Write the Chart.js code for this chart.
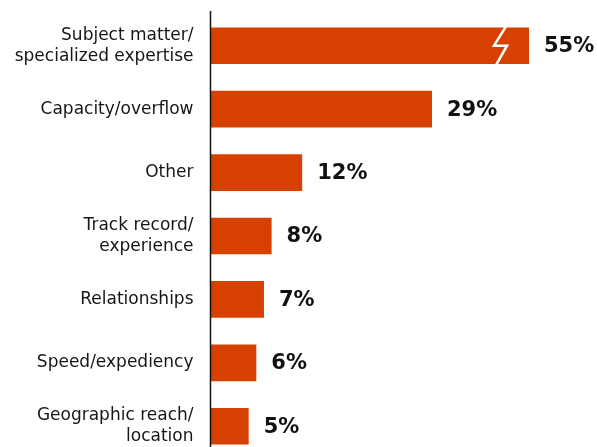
<!DOCTYPE html>
<html>
<head>
<meta charset="utf-8">
<script src="https://cdn.jsdelivr.net/npm/chart.js@4"></script>
<style>
  html, body { margin: 0; padding: 0; background: #ffffff; overflow: hidden; }
  #wrap { width: 597px; height: 458px; position: relative; }
</style>
</head>
<body>
<div id="wrap"><canvas id="chart"></canvas></div>
<script>
// Reasons for engaging outside help (share of respondents)
const categories = [
  ['Subject matter/', 'specialized expertise'],
  'Capacity/overflow',
  'Other',
  ['Track record/', 'experience'],
  'Relationships',
  'Speed/expediency',
  ['Geographic reach/', 'location']
];
const shares = [55, 29, 12, 8, 7, 6, 5];
const valueLabels = ['55%', '29%', '12%', '8%', '7%', '6%', '5%'];

// Visible extent of the value axis; longer bars are cut and marked with a break
const axisMax = 41.7;

const BAR_COLOR = '#d64000';
const TEXT_COLOR = '#161616';
const FONT = '"DejaVu Sans", sans-serif';

const decorations = {
  id: 'decorations',
  afterDatasetsDraw(chart) {
    const ctx = chart.ctx;
    const area = chart.chartArea;
    const meta = chart.getDatasetMeta(0);
    ctx.save();

    // vertical axis line
    ctx.strokeStyle = '#111111';
    ctx.lineWidth = 1.5;
    ctx.beginPath();
    ctx.moveTo(area.left, 11);
    ctx.lineTo(area.left, chart.height);
    ctx.stroke();

    meta.data.forEach((bar, i) => {
      const top = bar.y - bar.height / 2;
      const bottom = bar.y + bar.height / 2;
      const clipped = shares[i] > axisMax;
      const end = clipped ? area.right : bar.x;

      // break mark on truncated bars
      if (clipped) {
        ctx.strokeStyle = '#ffffff';
        ctx.lineWidth = 2.5;
        ctx.lineJoin = 'miter';
        ctx.beginPath();
        ctx.moveTo(area.right - 23, top - 1);
        ctx.lineTo(area.right - 35, bar.y);
        ctx.lineTo(area.right - 22, bar.y);
        ctx.lineTo(area.right - 33, bottom + 1);
        ctx.stroke();
      }

      // value label
      ctx.fillStyle = '#111111';
      ctx.font = 'bold 21px ' + FONT;
      ctx.textAlign = 'left';
      ctx.textBaseline = 'middle';
      ctx.fillText(valueLabels[i], end + 15, bar.y + 1);
    });
    ctx.restore();
  }
};

new Chart(document.getElementById('chart'), {
  type: 'bar',
  data: {
    labels: categories,
    datasets: [{
      data: shares,
      backgroundColor: BAR_COLOR,
      borderWidth: 0,
      barPercentage: 1,
      categoryPercentage: 0.578,
      clip: 0
    }]
  },
  options: {
    indexAxis: 'y',
    responsive: true,
    maintainAspectRatio: false,
    animation: false,
    layout: { padding: { top: 14, right: 68, bottom: 0, left: 0 } },
    plugins: {
      legend: { display: false },
      tooltip: { enabled: false }
    },
    scales: {
      x: {
        display: false,
        min: 0,
        max: axisMax
      },
      y: {
        grid: { display: false, drawTicks: false },
        border: { display: false },
        ticks: {
          color: TEXT_COLOR,
          padding: 17,
          font: { family: FONT, size: 17, lineHeight: 1.22 }
        },
        afterFit(scale) {
          scale.width = 210.5;
          scale.paddingTop = 0;
          scale.paddingBottom = 0;
        }
      }
    }
  },
  plugins: [decorations]
});
</script>
</body>
</html>
